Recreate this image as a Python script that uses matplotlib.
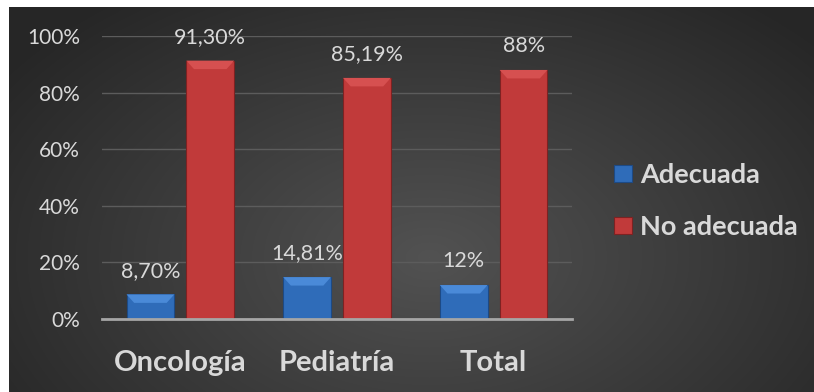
import numpy as np
import matplotlib
matplotlib.use("Agg")
import matplotlib.pyplot as plt
from matplotlib.patches import Polygon
from matplotlib.ticker import PercentFormatter

# data
categories = ["Oncología", "Pediatría", "Total"]
series_names = ["Adecuada", "No adecuada"]
adecuada = [8.70, 14.81, 12]
no_adecuada = [91.30, 85.19, 88]
labels_adecuada = ["8,70%", "14,81%", "12%"]
labels_no_adecuada = ["91,30%", "85,19%", "88%"]

plt.rcParams['font.family'] = ['Lato', 'DejaVu Sans']
txt = '#d9d9d9'

fig = plt.figure(figsize=(8.14, 3.92), dpi=100)
fig.patch.set_facecolor('white')

# dark panel with a soft radial gradient
bg = fig.add_axes([9 / 814, 0, 1 - 9 / 814, 1 - 7 / 392])
yy, xx = np.mgrid[0:385, 0:805]
r = np.sqrt(((xx - 420) / 520.0) ** 2 + ((yy - 250) / 330.0) ** 2)
r = np.clip(r, 0, 1)
lo = np.array([0x52, 0x52, 0x52]) / 255
hi = np.array([0x26, 0x26, 0x26]) / 255
img = lo[None, None, :] * (1 - r[..., None]) + hi[None, None, :] * r[..., None]
bg.imshow(img, aspect='auto', extent=[0, 1, 0, 1])
bg.set_axis_off()

ax = fig.add_axes([102 / 814, 73 / 392, 470 / 814, 283 / 392])
ax.set_facecolor('none')

x = np.arange(len(categories))
w = 0.305
gap = 0.077
offs = [-(w + gap) / 2, (w + gap) / 2]
body = ['#2f6cb9', '#c13a3a']
top = ['#4a8ad8', '#d65050']
edge = ['#1d4a85', '#7d2222']
bevel = 3.0  # bevel depth in % units

handles = []
for k, (vals, labs) in enumerate([(adecuada, labels_adecuada), (no_adecuada, labels_no_adecuada)]):
    bars = ax.bar(x + offs[k], vals, w, color=body[k], edgecolor=edge[k], linewidth=0.8,
                  zorder=3, label=series_names[k])
    handles.append(bars)
    for b, lab in zip(bars, labs):
        x0, x1 = b.get_x(), b.get_x() + b.get_width()
        h = b.get_height()
        ins = b.get_width() * 0.16
        ax.add_patch(Polygon([[x0, h], [x1, h], [x1 - ins, h - bevel], [x0 + ins, h - bevel]],
                             closed=True, facecolor=top[k], edgecolor='none', zorder=4))
        ax.annotate(lab, (b.get_x() + b.get_width() / 2, h), xytext=(0, 17),
                    textcoords='offset points', ha='center', va='center',
                    color=txt, fontsize=15.5)

ax.set_xlim(-0.5, len(categories) - 0.5)
ax.set_ylim(0, 100)
ax.set_yticks([0, 20, 40, 60, 80, 100])
ax.yaxis.set_major_formatter(PercentFormatter(decimals=0))
ax.set_xticks(x)
ax.set_xticklabels(categories, fontsize=21, fontweight='bold', color=txt)
ax.tick_params(axis='x', length=0, pad=22)
ax.tick_params(axis='y', length=0, pad=16, labelsize=15, labelcolor=txt)
ax.grid(axis='y', color='#5c5c5c', linewidth=1, zorder=0)
for s in ['top', 'right', 'left']:
    ax.spines[s].set_visible(False)
ax.spines['bottom'].set_color('#a6a6a6')
ax.spines['bottom'].set_linewidth(2)
ax.spines['bottom'].set_zorder(5)

leg = fig.legend(handles=handles, loc='center left', bbox_to_anchor=(590 / 814, 1 - 201 / 392),
                 frameon=False, prop={'weight': 'bold', 'size': 19.5},
                 handlelength=0.65, handleheight=0.6, handletextpad=0.3, labelspacing=1.05)
for t in leg.get_texts():
    t.set_color(txt)

fig.savefig('out.png', dpi=100, facecolor='white')
